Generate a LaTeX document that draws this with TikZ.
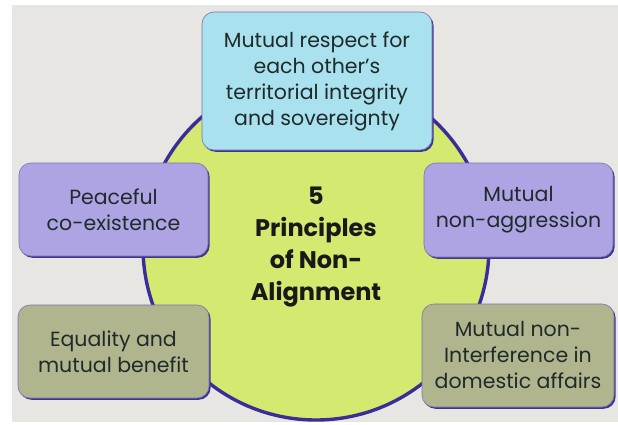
\documentclass[tikz,border=0pt]{standalone}
\usepackage{fontspec}
\setmainfont{Poppins}
\usetikzlibrary{shadows}
\definecolor{bgc}{HTML}{E8E6E3}
\definecolor{circfill}{HTML}{D4E96F}
\definecolor{circedge}{HTML}{3A2D98}
\definecolor{cyanbox}{HTML}{A9E1EE}
\definecolor{purplebox}{HTML}{AEA4E3}
\definecolor{olivebox}{HTML}{B1B58D}
\definecolor{edgec}{HTML}{3E3590}
\definecolor{textc}{HTML}{1F2A2A}
\tikzset{
  principle/.style={rectangle, rounded corners=12pt, inner sep=0pt, align=center,
    draw=edgec!70, line width=0.6pt, text=textc,
    font=\fontsize{20.5}{26}\selectfont,
    drop shadow={shadow xshift=1.6pt, shadow yshift=-1.8pt, fill=edgec, opacity=1}},
  hub/.style={circle, minimum size=346pt, inner sep=0pt, fill=circfill, draw=circedge,
    line width=3.4pt, align=center, text=black!90,
    font=\fontsize{24}{32}\selectfont\bfseries}
}
\begin{document}
\begin{tikzpicture}[x=1pt,y=-1pt]
\useasboundingbox (0,0) rectangle (618,425);
\fill[white] (0,0) rectangle (618,425);
\fill[bgc] (12,5) rectangle (618,422);
\node[hub] (center) at (316,247) {5\\Principles\\of Non-\\Alignment};
\node[principle, fill=cyanbox, minimum width=230pt, minimum height=138pt] (respect) at (317,81)
  {Mutual respect for\\each other’s\\territorial integrity\\and sovereignty};
\node[principle, fill=purplebox, minimum width=189pt, minimum height=93pt] (peace) at (113.5,209.5)
  {Peaceful\\co-existence};
\node[principle, fill=olivebox, minimum width=191pt, minimum height=93pt] (equal) at (113.5,351.5)
  {Equality and\\mutual benefit};
\node[principle, fill=purplebox, minimum width=189pt, minimum height=94pt] (nonagg) at (518.5,210)
  {Mutual\\non-aggression};
\node[principle, fill=olivebox, minimum width=192pt, minimum height=103pt] (nonint) at (518,355.5)
  {Mutual non-\\Interference in\\domestic affairs};
\end{tikzpicture}
\end{document}
